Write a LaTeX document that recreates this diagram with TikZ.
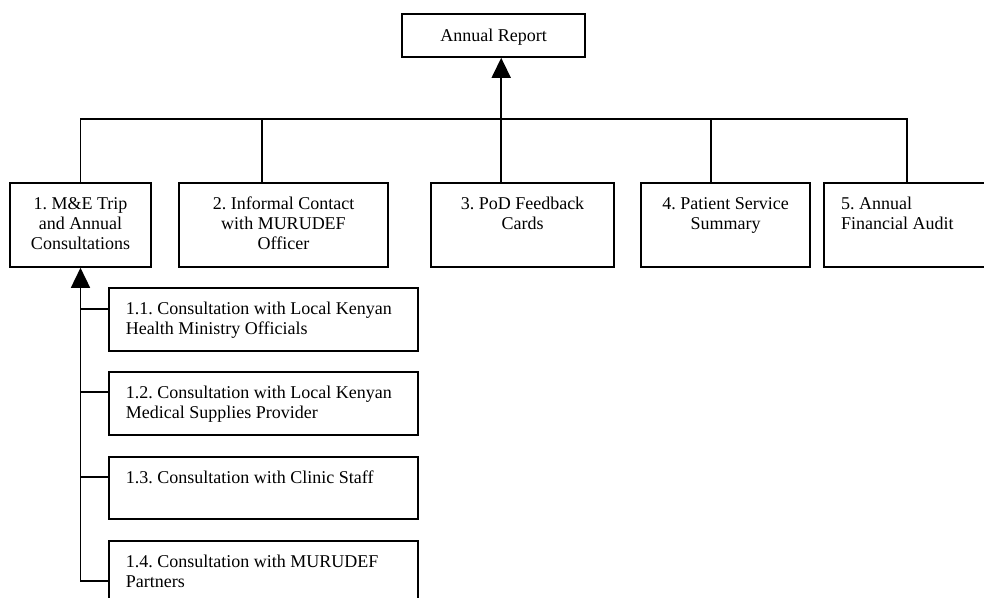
\documentclass[tikz,border=0pt]{standalone}
\usepackage{fontspec}
\setmainfont{Liberation Serif}
\usetikzlibrary{arrows.meta,calc}
\frenchspacing
\begin{document}
\begin{tikzpicture}[x=1pt,y=-1pt,
  box/.style={draw, line width=1.6pt, rectangle, inner sep=0pt},
  lbl/.style={inner sep=0pt, font=\fontsize{18}{20}\selectfont},
  wire/.style={draw, line width=1.6pt},
  tipend/.style={-{Triangle[width=19pt,length=20pt]}}]
\useasboundingbox (0,0) rectangle (984,597);
% boxes
\node[box, minimum width=183pt, minimum height=43pt] (ar) at (493.5,35.5) {};
\node[box, minimum width=141pt, minimum height=84pt] (b1) at (80.5,225) {};
\node[box, minimum width=209pt, minimum height=84pt] (b2) at (283.5,225) {};
\node[box, minimum width=183pt, minimum height=84pt] (b3) at (522.5,225) {};
\node[box, minimum width=169pt, minimum height=84pt] (b4) at (725.5,225) {};
\node[box, minimum width=166pt, minimum height=84pt] (b5) at (907,225) {};
\node[box, minimum width=309pt, minimum height=63pt] (s1) at (263.5,319.5) {};
\node[box, minimum width=309pt, minimum height=63pt] (s2) at (263.5,403.5) {};
\node[box, minimum width=309pt, minimum height=62pt] (s3) at (263.5,488) {};
\node[box, minimum width=309pt, minimum height=63pt] (s4) at (263.5,572.5) {};
% texts (base anchor = baseline of the last line)
\node[lbl, anchor=base] (art) at ($(ar.north)+(0,28)$) {Annual Report};
\node[lbl, anchor=base, align=center] (b1t) at ($(b1.north)+(0,67)$) {1. M\&E Trip\\and Annual\\Consultations};
\node[lbl, anchor=base, align=center] (b2t) at ($(b2.north)+(0,67)$) {2. Informal Contact\\with MURUDEF\\Officer};
\node[lbl, anchor=base, align=center] (b3t) at ($(b3.north)+(0,47)$) {3. PoD Feedback\\Cards};
\node[lbl, anchor=base, align=center] (b4t) at ($(b4.north)+(0,47)$) {4. Patient Service\\Summary};
\node[lbl, anchor=base west, align=left] (b5t) at ($(b5.north west)+(17.7,47)$) {5. Annual\\Financial Audit};
\node[lbl, anchor=base west, align=left] (s1t) at ($(s1.north west)+(17.5,47)$) {1.1. Consultation with Local Kenyan\\Health Ministry Officials};
\node[lbl, anchor=base west, align=left] (s2t) at ($(s2.north west)+(17.5,47)$) {1.2. Consultation with Local Kenyan\\Medical Supplies Provider};
\node[lbl, anchor=base west, align=left] (s3t) at ($(s3.north west)+(17.5,27)$) {1.3. Consultation with Clinic Staff};
\node[lbl, anchor=base west, align=left] (s4t) at ($(s4.north west)+(17.5,47)$) {1.4. Consultation with MURUDEF\\Partners};
% top bus
\draw[wire] (b1.north) |- ($(b5.north west)+(84,-63)$) -- ($(b5.north west)+(84,0)$);
\draw[wire] ($(b2.north west)+(84,0)$) -- ++(0,-63);
\draw[wire] ($(b4.north west)+(71,0)$) -- ++(0,-63);
\draw[wire,tipend] ($(b3.north west)+(71,0)$) -- ($(ar.south west)+(100,0)$);
% left spine
\draw[wire,tipend] ($(s4.north west)+(0,41)$) -| (b1.south);
\draw[wire] ($(s1.north west)+(0,22)$) -- ($(b1.south |- s1.north west)+(0,22)$);
\draw[wire] ($(s2.north west)+(0,21)$) -- ($(b1.south |- s2.north west)+(0,21)$);
\draw[wire] ($(s3.north west)+(0,21)$) -- ($(b1.south |- s3.north west)+(0,21)$);
\end{tikzpicture}
\end{document}
